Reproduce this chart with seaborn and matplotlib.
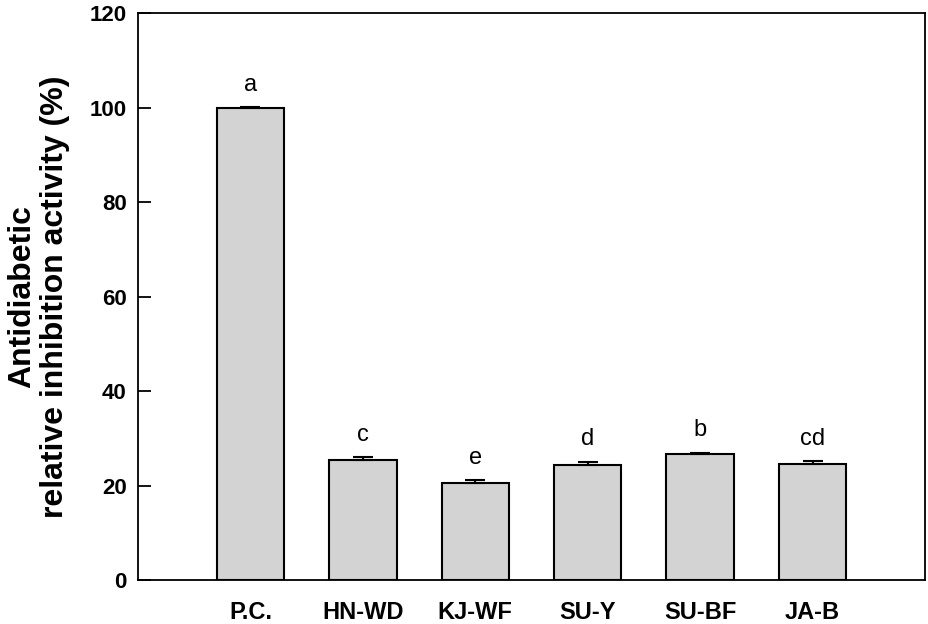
import pandas as pd
import numpy as np
import matplotlib.pyplot as plt
import seaborn as sns

# values
samples = ['P.C.', 'HN-WD', 'KJ-WF', 'SU-Y', 'SU-BF', 'JA-B']
activity = [100.0, 25.4, 20.5, 24.3, 26.7, 24.6]
sd = [0.1, 0.7, 0.7, 0.8, 0.3, 0.6]
letters = ['a', 'c', 'e', 'd', 'b', 'cd']

df = pd.DataFrame({'Sample': samples, 'Activity': activity, 'SD': sd})

sns.set_style('white')
plt.rcParams['font.family'] = ['Liberation Sans', 'DejaVu Sans']
plt.rcParams.update({'text.color': 'black', 'axes.labelcolor': 'black',
                     'xtick.color': 'black', 'ytick.color': 'black'})

fig, ax = plt.subplots(figsize=(9.29, 6.24), dpi=100)
fig.subplots_adjust(left=0.1485, right=0.9957, top=0.979, bottom=0.07)

sns.barplot(data=df, x='Sample', y='Activity', color='#D3D3D3', saturation=1,
            edgecolor='black', linewidth=1.5, width=0.6, errorbar=None, ax=ax)

# upper half error bars only (lower half hidden by the bars)
x = np.arange(len(samples))
ax.errorbar(x, df['Activity'], yerr=[np.zeros(len(sd)), df['SD']], fmt='none',
            ecolor='black', elinewidth=1.5, capsize=7.5, capthick=1.5, zorder=1)

for xi, y, e, lab in zip(x, df['Activity'], df['SD'], letters):
    ax.annotate(lab, (xi, y + e), xytext=(0, 16), textcoords='offset points',
                ha='center', va='center', fontsize=17, color='black')

ax.set_xlim(-1, 6)
ax.set_ylim(0, 120)
ax.set_yticks(range(0, 121, 20))
ax.set_xlabel('')
ax.set_ylabel('Antidiabetic\nrelative inhibition activity (%)',
              fontsize=23, fontweight='bold', labelpad=14, linespacing=1.15)

ax.tick_params(axis='y', direction='in', length=9, width=1.3, labelsize=16, pad=8, left=True)
ax.tick_params(axis='x', length=0, labelsize=17, pad=15)
for lab in ax.get_xticklabels() + ax.get_yticklabels():
    lab.set_fontweight('bold')
for s in ax.spines.values():
    s.set_visible(True)
    s.set_color('black')
    s.set_linewidth(1.3)

plt.savefig('out.png', dpi=100)
